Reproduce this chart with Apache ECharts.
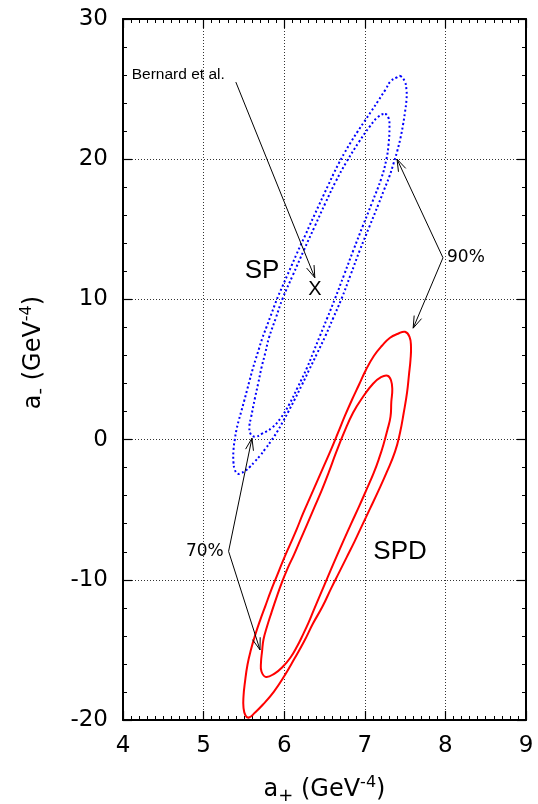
<!DOCTYPE html>
<html><head><meta charset="utf-8">
<script src="https://cdn.jsdelivr.net/npm/echarts@6/dist/echarts.min.js"></script>
<style>html,body{margin:0;padding:0;background:#fff}#c{width:538px;height:804px}</style>
</head><body><div id="c"></div>
<script>
// ---- data ----
const xTickValues = [4, 5, 6, 7, 8, 9];
const yTickValues = [-20, -10, 0, 10, 20, 30];

// SP fit, 90% contour (blue, outer)
const sp90 = [[7.437,25.937],[7.493,25.581],[7.517,24.939],[7.517,24.227],[7.499,23.371],[7.474,22.445],[7.443,21.518],[7.403,20.592],[7.355,19.665],[7.303,18.738],[7.239,17.812],[7.176,16.885],[7.056,15.175],[6.940,13.535],[6.824,11.753],[6.711,10.043],[6.609,8.688],[6.512,7.406],[6.406,6.123],[6.310,4.982],[6.221,3.913],[6.128,2.844],[6.051,1.989],[5.984,1.276],[5.913,0.563],[5.840,-0.078],[5.767,-0.649],[5.700,-1.148],[5.634,-1.575],[5.576,-1.932],[5.520,-2.217],[5.464,-2.395],[5.421,-2.431],[5.387,-2.145],[5.370,-1.575],[5.371,-0.720],[5.387,-0.007],[5.408,0.706],[5.435,1.347],[5.470,2.060],[5.504,2.773],[5.537,3.485],[5.573,4.269],[5.607,4.982],[5.644,5.695],[5.687,6.479],[5.728,7.227],[5.779,8.011],[5.830,8.795],[5.881,9.579],[5.927,10.257],[5.984,11.005],[6.038,11.718],[6.093,12.430],[6.150,13.179],[6.203,13.856],[6.261,14.569],[6.316,15.282],[6.376,16.030],[6.433,16.743],[6.490,17.455],[6.551,18.204],[6.612,18.952],[6.677,19.701],[6.748,20.449],[6.825,21.197],[6.908,21.946],[6.991,22.659],[7.079,23.407],[7.165,24.155],[7.254,24.939],[7.324,25.581],[7.397,25.830]];
// SP fit, 70% contour (blue, inner)
const sp70 = [[7.251,23.229],[7.294,22.944],[7.306,22.231],[7.294,21.019],[7.269,20.021],[7.207,18.667],[7.089,16.885],[6.976,15.246],[6.860,13.535],[6.743,11.753],[6.630,10.043],[6.535,8.688],[6.444,7.406],[6.364,6.265],[6.283,5.125],[6.165,3.699],[6.060,2.487],[5.960,1.561],[5.849,0.848],[5.725,0.420],[5.638,0.207],[5.582,0.420],[5.569,0.991],[5.588,1.561],[5.638,2.986],[5.679,4.056],[5.718,5.125],[5.766,6.194],[5.811,7.263],[5.897,8.688],[5.979,10.043],[6.109,11.753],[6.246,13.535],[6.382,15.246],[6.512,16.885],[6.637,18.382],[6.773,19.808],[6.928,21.233],[7.058,22.302],[7.164,23.015]];
// SPD fit, 90% contour (red, outer)
const spd90 = [[7.499,7.691],[7.555,7.334],[7.573,6.621],[7.567,5.695],[7.548,4.626],[7.524,3.343],[7.483,1.917],[7.437,0.492],[7.375,-0.862],[7.275,-2.288],[7.170,-3.642],[7.065,-4.925],[6.965,-6.137],[6.872,-7.277],[6.773,-8.418],[6.680,-9.487],[6.581,-10.627],[6.475,-11.910],[6.357,-13.122],[6.246,-14.405],[6.128,-15.617],[5.998,-16.900],[5.873,-17.969],[5.737,-18.895],[5.638,-19.466],[5.563,-19.822],[5.520,-19.679],[5.495,-19.109],[5.495,-18.325],[5.514,-17.256],[5.545,-16.044],[5.588,-14.975],[5.638,-13.977],[5.700,-12.908],[5.768,-11.839],[5.836,-10.770],[5.911,-9.701],[5.991,-8.560],[6.072,-7.491],[6.153,-6.422],[6.233,-5.282],[6.320,-4.141],[6.407,-3.001],[6.494,-1.860],[6.581,-0.720],[6.668,0.492],[6.754,1.703],[6.841,2.844],[6.928,3.913],[7.015,4.982],[7.114,5.980],[7.213,6.693],[7.313,7.263],[7.412,7.548]];
// SPD fit, 70% contour (red, inner)
const spd70 = [[7.282,4.554],[7.325,4.234],[7.341,3.557],[7.329,2.701],[7.319,1.632],[7.278,0.634],[7.231,-0.364],[7.180,-1.290],[7.112,-2.359],[7.021,-3.571],[6.928,-4.783],[6.831,-5.994],[6.736,-7.206],[6.649,-8.346],[6.574,-9.344],[6.506,-10.271],[6.432,-11.269],[6.364,-12.195],[6.302,-13.051],[6.233,-13.906],[6.159,-14.761],[6.078,-15.545],[5.985,-16.187],[5.880,-16.686],[5.774,-16.935],[5.718,-16.543],[5.712,-15.902],[5.725,-15.118],[5.743,-14.262],[5.787,-13.336],[5.842,-12.338],[5.904,-11.269],[5.966,-10.271],[6.041,-9.202],[6.122,-8.204],[6.202,-7.135],[6.283,-6.066],[6.373,-4.854],[6.469,-3.571],[6.556,-2.288],[6.643,-0.934],[6.742,0.492],[6.854,1.917],[6.978,3.058],[7.102,3.984],[7.201,4.448]];

// Bernard et al. prediction point
const bernardPoint = [6.38, 10.72];

// annotation arrows: [fromX, fromY, toX, toY]
const arrows = [
  [5.40, 25.5, 6.38, 11.55],
  [7.97, 12.97, 7.40, 20.0],
  [7.97, 12.97, 7.60, 7.95],
  [5.31, -7.97, 5.60, 0.1],
  [5.31, -7.97, 5.70, -15.0]
];

// annotation texts and anchor points (data units)
const noteTexts = ['Bernard et al.', 'SP', 'SPD', '90%', '70%'];
const noteAnchors = [[4.108, 26.0], [5.725, 12.04], [7.437, -8.0], [8.02, 12.97], [5.25, -7.97]];

// ---- chart ----
const FONT = 'Liberation Sans';
const NUMFONT = 'DejaVu Sans';
const axisNameRich = {
  m:   {fontSize: 24, fontFamily: NUMFONT, color: '#000', lineHeight: 30},
  sup: {fontSize: 16, fontFamily: NUMFONT, color: '#000', lineHeight: 18, verticalAlign: 'top'},
  sub: {fontSize: 18, fontFamily: NUMFONT, color: '#000', lineHeight: 14, verticalAlign: 'bottom'}
};

function frameAxis(pos, isX, showLabel) {
  const ticks = isX ? xTickValues : yTickValues;
  return {
    type: 'value', position: pos,
    min: ticks[0], max: ticks[ticks.length - 1], interval: ticks[1] - ticks[0],
    axisLine: {show: true, onZero: false, lineStyle: {color: '#000', width: 2}},
    axisTick: {show: true, inside: true, length: 9, lineStyle: {color: '#000', width: 1.2}},
    minorTick: {show: true, splitNumber: isX ? 10 : 5, length: 4, lineStyle: {color: '#000', width: 1}},
    axisLabel: {show: showLabel, color: '#000', fontSize: 23, fontFamily: NUMFONT, margin: 15},
    splitLine: {show: showLabel, lineStyle: {color: '#333', type: [1, 2], width: 1}}
  };
}

const xBottom = Object.assign(frameAxis('bottom', true, true), {
  name: '{m|a}{sub|+}{m| (GeV}{sup|-4}{m|)}',
  nameLocation: 'middle', nameGap: 55,
  nameTextStyle: {rich: axisNameRich}
});
const yLeft = Object.assign(frameAxis('left', false, true), {
  name: '{m|a}{sub|-}{m| (GeV}{sup|-4}{m|)}',
  nameLocation: 'middle', nameGap: 74, nameRotate: 90,
  nameTextStyle: {rich: axisNameRich, padding: [0, 0, 0, 34]}
});

const chart = echarts.init(document.getElementById('c'), null, {renderer: 'canvas'});

// closed contour drawn as a smooth polygon through the traced points
const contourSeries = (pts, color, dashed) => ({
  type: 'custom', xAxisIndex: 0, yAxisIndex: 0, silent: true, z: 3,
  data: pts, encode: {x: 0, y: 1},
  renderItem: function (params, api) {
    if (params.dataIndex !== 0) return null;
    const points = pts.map(p => api.coord(p));
    return {
      type: 'polygon',
      shape: {points: points, smooth: 0.45},
      style: {fill: 'none', stroke: color, lineWidth: 2, lineDash: dashed ? [2, 2.5] : null}
    };
  }
});

const notePos = ['right', 'inside', 'inside', 'right', 'left'];
const noteSize = [15.5, 26, 26, 17, 17];
const noteFont = [FONT, FONT, FONT, NUMFONT, NUMFONT];

chart.setOption({
  animation: false,
  backgroundColor: '#fff',
  grid: {left: 123, top: 19, width: 403, height: 701, containLabel: false, outerBoundsMode: 'none'},
  xAxis: [xBottom, frameAxis('top', true, false)],
  yAxis: [yLeft, frameAxis('right', false, false)],
  series: [
    contourSeries(sp90, '#0000ff', true),
    contourSeries(sp70, '#0000ff', true),
    contourSeries(spd90, '#ff0000', false),
    contourSeries(spd70, '#ff0000', false),
    {
      type: 'custom', xAxisIndex: 0, yAxisIndex: 0, silent: true, z: 4,
      data: arrows, encode: {x: [0, 2], y: [1, 3]},
      renderItem: function (params, api) {
        const p1 = api.coord([api.value(0), api.value(1)]);
        const p2 = api.coord([api.value(2), api.value(3)]);
        const dx = p2[0] - p1[0], dy = p2[1] - p1[1];
        const L = Math.hypot(dx, dy), ux = dx / L, uy = dy / L;
        const hl = 12, hw = 4;
        const a1 = [p2[0] - ux * hl - uy * hw, p2[1] - uy * hl + ux * hw];
        const a2 = [p2[0] - ux * hl + uy * hw, p2[1] - uy * hl - ux * hw];
        return {type: 'group', children: [
          {type: 'line', shape: {x1: p1[0], y1: p1[1], x2: p2[0], y2: p2[1]}, style: {stroke: '#000', lineWidth: 1}},
          {type: 'polyline', shape: {points: [a1, p2, a2]}, style: {stroke: '#000', lineWidth: 1, fill: 'none'}}
        ]};
      }
    },
    {
      type: 'scatter', xAxisIndex: 0, yAxisIndex: 0, silent: true, z: 5,
      symbolSize: 0, itemStyle: {color: 'transparent', opacity: 1},
      data: noteTexts.map((t, i) => ({
        name: t, value: noteAnchors[i],
        label: {show: true, formatter: '{b}', position: notePos[i], distance: 0,
                fontSize: noteSize[i], fontFamily: noteFont[i], color: '#000', opacity: 1}
      })).concat([{
        name: 'X', value: bernardPoint,
        label: {show: true, formatter: '{b}', position: 'inside', fontSize: 20, fontFamily: FONT, color: '#000', opacity: 1}
      }])
    }
  ]
});
</script>
</body></html>
